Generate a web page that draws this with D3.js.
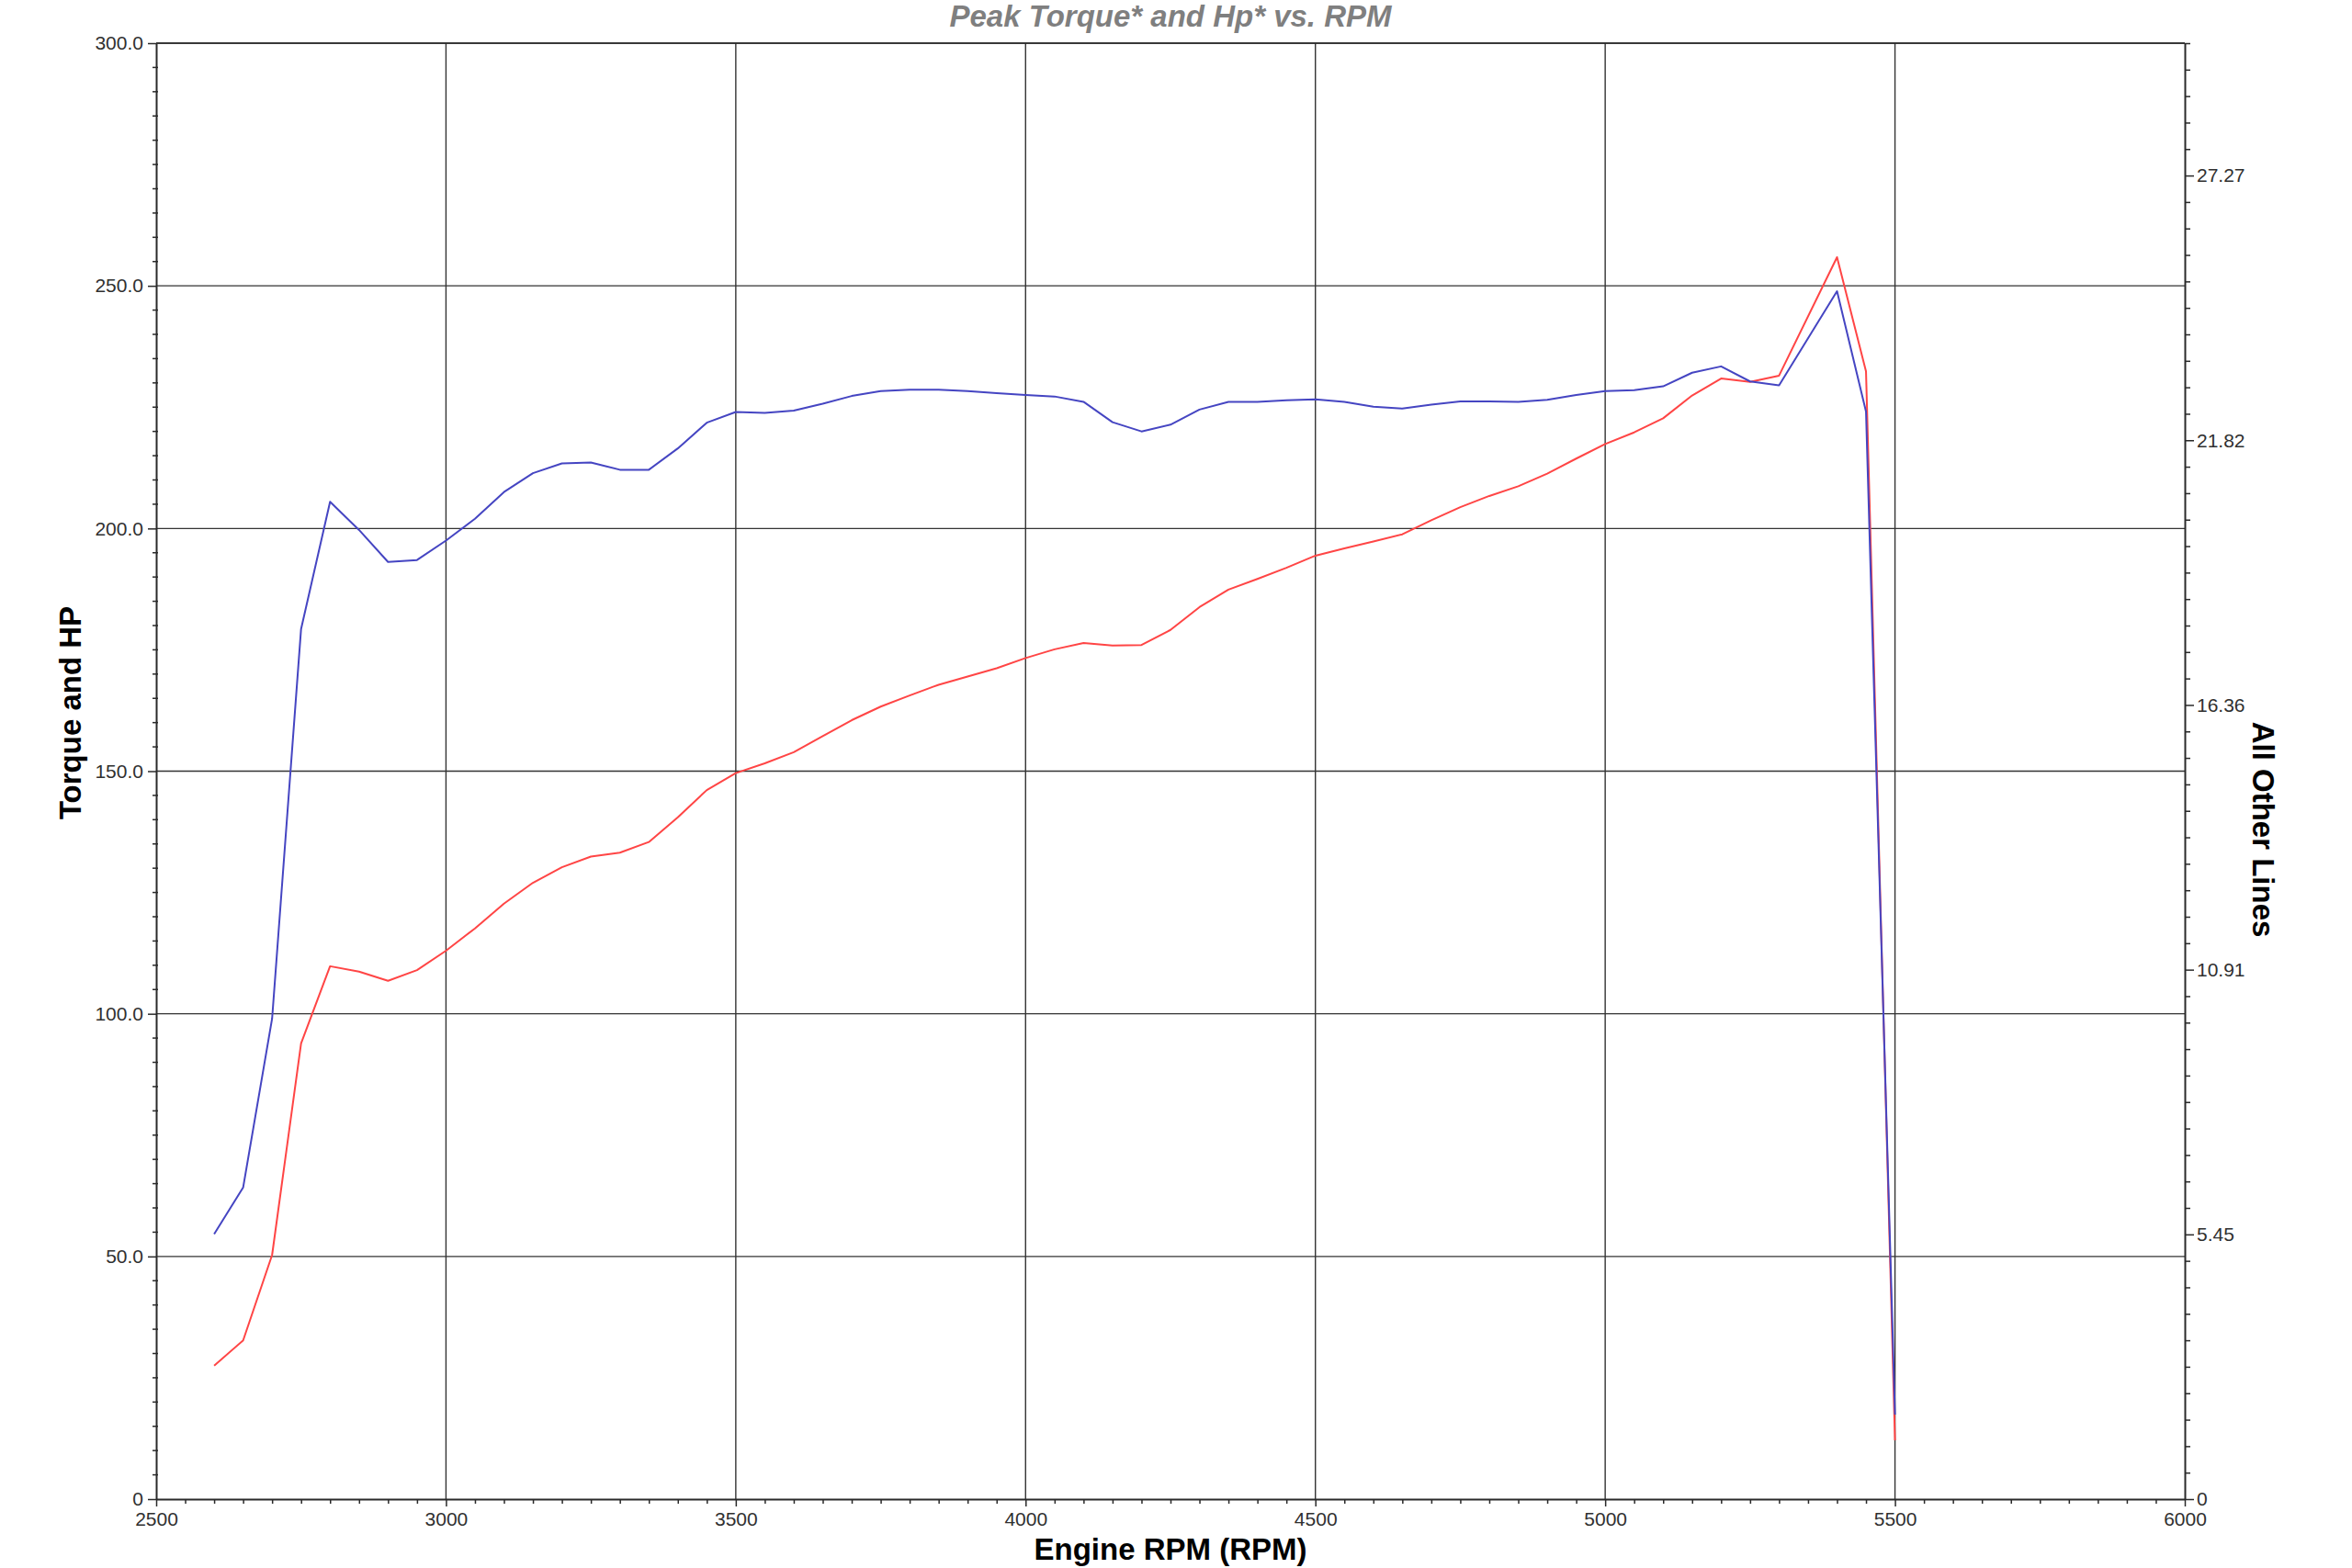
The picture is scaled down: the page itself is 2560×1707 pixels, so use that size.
<!DOCTYPE html>
<html>
<head>
<meta charset="utf-8">
<script src="https://cdn.jsdelivr.net/npm/d3@7"></script>
<style>
  html, body { margin: 0; padding: 0; background: #fff; }
  svg { display: block; }
  text { font-family: "Liberation Sans", Arial, sans-serif; }
</style>
</head>
<body>
<svg id="chart" width="2560" height="1707"></svg>
<script>
// ---- data ----
const rpm = [2600, 2650, 2700, 2750, 2800, 2850, 2900, 2950, 3000, 3050, 3100, 3150, 3200, 3250, 3300, 3350,
  3400, 3450, 3500, 3550, 3600, 3650, 3700, 3750, 3800, 3850, 3900, 3950, 4000, 4050, 4100, 4150, 4200, 4250,
  4300, 4350, 4400, 4450, 4500, 4550, 4600, 4650, 4700, 4750, 4800, 4850, 4900, 4950, 5000, 5050, 5100, 5150,
  5200, 5250, 5300, 5400, 5450, 5500];
const torque = [54.6, 64.2, 99.0, 179.3, 205.5, 199.7, 193.1, 193.5, 197.5, 202.0, 207.5, 211.4, 213.4, 213.6, 212.1, 212.1,
  216.5, 221.8, 224.0, 223.8, 224.3, 225.7, 227.3, 228.3, 228.6, 228.6, 228.3, 227.9, 227.5, 227.2, 226.1, 221.9, 220.0, 221.4,
  224.5, 226.1, 226.1, 226.4, 226.6, 226.1, 225.1, 224.7, 225.5, 226.2, 226.2, 226.1, 226.5, 227.5, 228.3, 228.5, 229.3, 232.1,
  233.4, 230.3, 229.5, 248.9, 224.1, 17.4];
const hp = [27.5, 32.7, 50.3, 93.9, 109.8, 108.7, 106.8, 109.0, 113.0, 117.6, 122.7, 127.0, 130.2, 132.4, 133.2, 135.4,
  140.5, 146.1, 149.6, 151.6, 153.9, 157.2, 160.5, 163.3, 165.6, 167.8, 169.5, 171.2, 173.3, 175.1, 176.4, 175.9, 176.0, 179.1,
  183.8, 187.4, 189.6, 191.9, 194.4, 195.9, 197.3, 198.8, 201.7, 204.4, 206.7, 208.7, 211.3, 214.4, 217.4, 219.8, 222.7, 227.4,
  230.9, 230.2, 231.5, 255.9, 232.4, 12.1];

const xTicks = [2500, 3000, 3500, 4000, 4500, 5000, 5500, 6000];
const xTickLabels = ["2500", "3000", "3500", "4000", "4500", "5000", "5500", "6000"];
const leftTicks = [0, 50, 100, 150, 200, 250, 300];
const leftTickLabels = ["0", "50.0", "100.0", "150.0", "200.0", "250.0", "300.0"];
const rightTicks = [0, 5.4545, 10.9091, 16.3636, 21.8182, 27.2727];
const rightTickLabels = ["0", "5.45", "10.91", "16.36", "21.82", "27.27"];

const title = "Peak Torque* and Hp* vs. RPM";
const xTitle = "Engine RPM (RPM)";
const leftTitle = "Torque and HP";
const rightTitle = "All Other Lines";

// ---- layout ----
const L = 170, R = 2378, T = 47, B = 1632;
const svg = d3.select("#chart");
svg.append("rect").attr("width", 2560).attr("height", 1707).attr("fill", "#fff");

const x = d3.scaleLinear().domain([2500, 6000]).range([L, R]);
const yL = d3.scaleLinear().domain([0, 300]).range([B, T]);
const yR = d3.scaleLinear().domain([0, 30]).range([B, T]);

const gridColor = "#333333";
const axisColor = "#2a2a2a";
const labelColor = "#303030";

// gridlines
const grid = svg.append("g");
grid.selectAll("line.h").data(leftTicks.filter(v => v > 0)).join("line")
  .attr("x1", L).attr("x2", R)
  .attr("y1", d => yL(d)).attr("y2", d => yL(d))
  .attr("stroke", gridColor).attr("stroke-width", 1.4);
grid.selectAll("line.v").data(xTicks.filter(v => v > 2500 && v < 6000)).join("line")
  .attr("x1", d => x(d)).attr("x2", d => x(d))
  .attr("y1", T).attr("y2", B)
  .attr("stroke", gridColor).attr("stroke-width", 1.4);

// minor tick values
const xMinor = d3.range(2500, 6001, 50).filter(v => v % 500 !== 0);
const leftMinor = d3.range(0, 301, 5).filter(v => v % 50 !== 0);
const rightMinor = d3.range(0, 56).map(i => i * 30 / 55).filter((v, i) => i % 10 !== 0);

function styleAxis(g) {
  g.select(".domain").attr("stroke", axisColor).attr("stroke-width", 2);
  g.selectAll(".tick line").attr("stroke", axisColor).attr("stroke-width", 1.5);
  g.selectAll(".tick text").attr("fill", labelColor)
    .style("font-family", '"Liberation Sans", Arial, sans-serif').style("font-size", "21px");
}

// x axis
const gx = svg.append("g").attr("transform", `translate(0,${B})`)
  .call(d3.axisBottom(x).tickValues(xTicks).tickFormat((d, i) => xTickLabels[i]).tickSize(8).tickPadding(6).tickSizeOuter(0));
styleAxis(gx);
svg.append("g").attr("transform", `translate(0,${B})`)
  .call(d3.axisBottom(x).tickValues(xMinor).tickFormat("").tickSize(5).tickSizeOuter(0))
  .call(g => { g.select(".domain").remove(); g.selectAll(".tick line").attr("stroke", axisColor).attr("stroke-width", 1.5); });

// left axis
const gl = svg.append("g").attr("transform", `translate(${L},0)`)
  .call(d3.axisLeft(yL).tickValues(leftTicks).tickFormat((d, i) => leftTickLabels[i]).tickSize(9).tickPadding(5).tickSizeOuter(0));
styleAxis(gl);
svg.append("g").selectAll("line").data(leftMinor).join("line")
  .attr("x1", L - 4).attr("x2", L + 2)
  .attr("y1", d => yL(d)).attr("y2", d => yL(d))
  .attr("stroke", axisColor).attr("stroke-width", 1.5);

// right axis
const gr = svg.append("g").attr("transform", `translate(${R},0)`)
  .call(d3.axisRight(yR).tickValues(rightTicks).tickFormat((d, i) => rightTickLabels[i]).tickSize(10).tickPadding(3).tickSizeOuter(0));
styleAxis(gr);
svg.append("g").attr("transform", `translate(${R},0)`)
  .call(d3.axisRight(yR).tickValues(rightMinor).tickFormat("").tickSize(6).tickSizeOuter(0))
  .call(g => { g.select(".domain").remove(); g.selectAll(".tick line").attr("stroke", axisColor).attr("stroke-width", 1.5); });

// top border
svg.append("line").attr("x1", L).attr("x2", R).attr("y1", T).attr("y2", T)
  .attr("stroke", axisColor).attr("stroke-width", 1.5);

// series
const pts = (vals) => rpm.map((r, i) => [r, vals[i]]);
const line = d3.line().x(d => x(d[0])).y(d => yL(d[1]));
svg.append("path").datum(pts(hp)).attr("d", line)
  .attr("fill", "none").attr("stroke", "#ff4545").attr("stroke-width", 2).attr("stroke-linejoin", "round");
svg.append("path").datum(pts(torque)).attr("d", line)
  .attr("fill", "none").attr("stroke", "#4545c2").attr("stroke-width", 2).attr("stroke-linejoin", "round");

// titles
svg.append("text").attr("x", (L + R) / 2).attr("y", 29).attr("text-anchor", "middle")
  .style("font-size", "33px").style("font-weight", "bold").style("font-style", "italic")
  .attr("fill", "#7f7f7f").text(title);
svg.append("text").attr("x", (L + R) / 2).attr("y", 1698).attr("text-anchor", "middle")
  .style("font-size", "33px").style("font-weight", "bold").attr("fill", "#000").text(xTitle);
svg.append("text").attr("transform", "translate(88,776) rotate(-90)").attr("text-anchor", "middle")
  .style("font-size", "33px").style("font-weight", "bold").attr("fill", "#000").text(leftTitle);
svg.append("text").attr("transform", "translate(2452,903) rotate(90)").attr("text-anchor", "middle")
  .style("font-size", "33px").style("font-weight", "bold").attr("fill", "#000").text(rightTitle);
</script>
</body>
</html>
